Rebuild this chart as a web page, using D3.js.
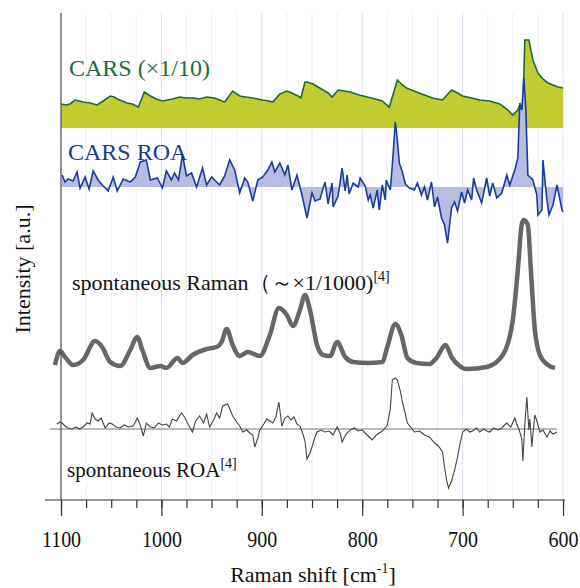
<!DOCTYPE html>
<html>
<head>
<meta charset="utf-8">
<script src="https://cdn.jsdelivr.net/npm/d3@7"></script>
<style>
  body { margin: 0; background: #fff; }
</style>
</head>
<body>
<div id="chart"></div>
<script>
// data: [Raman shift cm-1, intensity relative to its own baseline]
const majorTicks = [1100, 1000, 900, 800, 700, 600]
const minorTicks = d3.range(600, 1101, 25)

// trace baselines (a.u.)
const carsBase = 372
const carsRoaBase = 313
const ramanBase = 130
const roaBase = 71

const carsData = [
  [1100, 24], [1095, 23], [1091, 24], [1086, 28], [1082, 27], [1078, 26], [1071, 25],
  [1064, 23], [1058, 27], [1051, 32], [1047, 31], [1044, 29], [1039, 27], [1034, 25],
  [1029, 24], [1023, 21], [1017, 36], [1011, 32], [1005, 29], [999, 27], [994, 28],
  [989, 29], [982, 31], [975, 30], [968, 30], [962, 29], [955, 31], [947, 30], [942, 28],
  [937, 26], [929, 37], [922, 32], [916, 31], [909, 30], [904, 29], [899, 28], [893, 27],
  [889, 26], [882, 34], [875, 37], [870, 35], [864, 32], [861, 30], [857, 46], [855, 46],
  [849, 44], [844, 41], [839, 38], [834, 35], [830, 31], [824, 38], [818, 37], [812, 36],
  [803, 33], [795, 31], [787, 29], [780, 27], [773, 21], [765, 48], [760, 43], [756, 40],
  [751, 38], [746, 36], [738, 33], [730, 30], [725, 29], [720, 28], [711, 38], [705, 35],
  [700, 32], [691, 30], [683, 28], [673, 27], [663, 24], [656, 19], [650, 13], [645, 18],
  [643, 23], [640, 20], [638, 88], [634, 88], [630, 68], [625, 55], [620, 49], [615, 45],
  [610, 43], [605, 41], [600, 40]
]

const carsRoaData = [
  [1099, 12], [1096, 5], [1093, 8], [1088, 6], [1084, 15], [1081, -1], [1076, 10],
  [1072, -2], [1068, 16], [1063, 7], [1058, 1], [1053, -4], [1048, 10], [1044, -4],
  [1038, 8], [1031, 5], [1026, 10], [1021, 25], [1015, 27], [1011, 7], [1004, 9],
  [999, -1], [995, 16], [990, 7], [987, 14], [983, 7], [979, 32], [975, 11], [970, 14],
  [965, 0], [959, 19], [955, 2], [950, 10], [942, 2], [937, 11], [932, 27], [927, 17],
  [922, -6], [917, 9], [914, 5], [909, -14], [904, 7], [899, 10], [894, 17], [890, 25],
  [887, 15], [882, 24], [877, 12], [874, 22], [870, -3], [865, 12], [860, -8], [855, -31],
  [850, -6], [847, -14], [842, -12], [837, 5], [834, -17], [830, 4], [829, -20], [824, -9],
  [820, 19], [817, -4], [815, 12], [813, -7], [809, 4], [804, 0], [802, 9], [797, 1],
  [794, -13], [792, -8], [789, -21], [785, -3], [783, -23], [780, 2], [777, -13], [776, 7],
  [772, -3], [770, 22], [767, 65], [765, 47], [763, 24], [760, 15], [757, 3], [753, -1],
  [748, -3], [745, 4], [741, -8], [738, 0], [735, -13], [731, 5], [728, -20], [725, -10],
  [721, -31], [718, -38], [715, -56], [711, -21], [708, -15], [705, -24], [701, -5],
  [698, -16], [695, -3], [691, -13], [689, 9], [686, -3], [681, -16], [676, 9], [673, -9],
  [670, 4], [666, -11], [661, -6], [656, 12], [653, 2], [648, 17], [645, 29], [643, 84],
  [641, 77], [639, 109], [637, 77], [635, 12], [630, 7], [626, -8], [625, -28], [621, -23],
  [620, 27], [616, -13], [614, -28], [610, -18], [606, 2], [601, -23], [600, -25]
]

const ramanData = [
  [1106, 5], [1101, 19], [1096, 13], [1088, 5], [1078, 10], [1066, 29], [1059, 23],
  [1051, 8], [1041, 4], [1031, 20], [1024, 33], [1019, 20], [1011, 2], [1001, 4],
  [995, 2], [984, 12], [979, 7], [969, 15], [955, 21], [945, 23], [940, 28], [935, 41],
  [929, 25], [922, 14], [914, 18], [902, 14], [892, 35], [883, 62], [875, 55], [869, 44],
  [862, 60], [857, 75], [852, 60], [845, 25], [839, 15], [832, 14], [825, 28], [817, 13],
  [809, 8], [795, 7], [780, 8], [775, 23], [767, 46], [761, 35], [755, 12], [746, 7],
  [733, 6], [726, 12], [717, 25], [711, 13], [703, 4], [696, 1], [676, 3], [660, 15],
  [650, 50], [645, 100], [641, 146], [639, 150], [635, 145], [632, 100], [628, 40],
  [623, 15], [615, 5], [608, 2]
]

const roaData = [
  [1104, 5], [1101, 7], [1099, 6], [1096, 3], [1093, 1], [1089, 0], [1085, 2], [1082, 0],
  [1078, 2], [1074, 6], [1071, 5], [1069, 16], [1066, 10], [1063, 8], [1060, 11], [1056, 1],
  [1052, 6], [1049, 5], [1045, 2], [1041, 1], [1037, 4], [1033, 2], [1028, 3], [1024, 11],
  [1021, 4], [1018, -7], [1015, 6], [1011, 2], [1007, 1], [1003, 6], [999, 4], [995, 5],
  [992, 2], [989, 10], [985, 8], [980, 16], [977, 12], [974, 6], [969, -3], [966, 8],
  [962, 13], [958, 6], [955, 15], [952, 2], [948, 9], [945, 16], [942, 11], [939, 23],
  [934, 25], [931, 18], [929, 13], [925, 7], [922, 3], [919, -3], [915, -1], [912, -4],
  [909, -6], [907, -18], [904, -9], [902, -1], [898, 5], [895, 10], [892, 8], [889, 6],
  [886, 12], [883, 27], [880, 3], [877, 11], [874, 13], [871, 9], [868, 12], [865, 5],
  [862, 3], [860, -2], [857, -12], [855, -30], [852, -24], [850, -18], [847, -8],
  [845, -3], [841, -1], [837, -3], [833, -2], [829, -6], [825, 2], [822, -4], [820, -13],
  [816, -5], [812, -1], [808, 1], [804, -2], [800, -1], [796, -5], [793, -8], [790, -11],
  [786, -6], [783, -4], [780, -2], [777, 1], [775, 4], [772, 20], [770, 49], [767, 51],
  [765, 49], [762, 38], [760, 27], [757, 15], [755, 6], [751, 1], [748, -3], [743, -2],
  [738, -6], [733, -8], [728, -14], [724, -17], [720, -23], [718, -38], [716, -51],
  [714, -59], [711, -52], [708, -41], [705, -28], [703, -17], [700, -3], [696, 0],
  [693, -3], [690, -2], [686, 1], [683, -3], [679, 0], [676, -2], [673, -3], [669, 1],
  [665, -1], [661, 1], [658, 4], [656, 6], [652, 2], [648, 11], [646, 5], [643, -3],
  [641, -10], [640, -32], [638, 5], [636, 32], [634, -1], [633, 10], [631, -18], [630, -6],
  [628, 14], [626, 8], [623, -3], [620, -1], [616, -8], [613, -2], [610, -5], [606, -3]
]

const serif = 'Liberation Serif'

const svg = d3.select('#chart').append('svg').attr('width', 580).attr('height', 588)

const x = d3.scaleLinear().domain([1100, 600]).range([61, 563])
const y = d3.scaleLinear().domain([0, 487]).range([500, 13])

// grid lines
svg.append('g')
  .selectAll('line')
  .data(minorTicks)
  .join('line')
  .attr('x1', d => x(d)).attr('x2', d => x(d))
  .attr('y1', y(487)).attr('y2', y(0))
  .attr('stroke', d => (d % 100 === 0 ? '#dedff0' : '#efeff7'))
  .attr('stroke-width', 1)

// CARS (x1/10)
svg.append('path')
  .datum(carsData)
  .attr('fill', '#c2cc30')
  .attr('d', d3.area().x(d => x(d[0])).y0(y(carsBase)).y1(d => y(carsBase + d[1])))
svg.append('path')
  .datum(carsData)
  .attr('fill', 'none')
  .attr('stroke', '#1f6a3a')
  .attr('stroke-width', 1.6)
  .attr('d', d3.line().x(d => x(d[0])).y(d => y(carsBase + d[1])))

// CARS ROA
svg.append('path')
  .datum(carsRoaData)
  .attr('fill', '#b6bde0')
  .attr('d', d3.area().x(d => x(d[0])).y0(y(carsRoaBase)).y1(d => y(carsRoaBase + d[1])))
svg.append('path')
  .datum(carsRoaData)
  .attr('fill', 'none')
  .attr('stroke', '#1b3c9c')
  .attr('stroke-width', 1.6)
  .attr('d', d3.line().x(d => x(d[0])).y(d => y(carsRoaBase + d[1])))

// spontaneous Raman
svg.append('path')
  .datum(ramanData)
  .attr('fill', 'none')
  .attr('stroke', '#666')
  .attr('stroke-width', 4.5)
  .attr('stroke-linejoin', 'round')
  .attr('d', d3.line().curve(d3.curveMonotoneX).x(d => x(d[0])).y(d => y(ramanBase + d[1])))

// spontaneous ROA
svg.append('line')
  .attr('x1', x(1111)).attr('x2', x(606))
  .attr('y1', y(roaBase)).attr('y2', y(roaBase))
  .attr('stroke', '#777').attr('stroke-width', 1.2)
svg.append('path')
  .datum(roaData)
  .attr('fill', 'none')
  .attr('stroke', '#444')
  .attr('stroke-width', 1.1)
  .attr('d', d3.line().x(d => x(d[0])).y(d => y(roaBase + d[1])))

// axes
svg.append('line')
  .attr('x1', x(1100)).attr('x2', x(1100))
  .attr('y1', y(487)).attr('y2', y(0))
  .attr('stroke', '#555').attr('stroke-width', 1.2)
svg.append('line')
  .attr('x1', 45).attr('x2', x(598))
  .attr('y1', y(0)).attr('y2', y(0))
  .attr('stroke', '#333').attr('stroke-width', 1.2)

const minorAxis = svg.append('g')
  .attr('transform', `translate(0,${y(0)})`)
  .call(d3.axisBottom(x).tickValues(minorTicks).tickSize(8).tickFormat(''))
const majorAxis = svg.append('g')
  .attr('transform', `translate(0,${y(0)})`)
  .call(d3.axisBottom(x).tickValues(majorTicks).tickSize(16).tickFormat(d3.format('d')))
minorAxis.select('.domain').remove()
majorAxis.select('.domain').remove()
svg.selectAll('.tick line').attr('stroke', '#333').attr('stroke-width', 1.2)
// tick labels look slightly stretched vertically in the original
majorAxis.attr('font-family', serif).attr('font-size', 20)
majorAxis.selectAll('text')
  .attr('y', 47 / 1.18).attr('dy', 0)
  .attr('transform', 'scale(1,1.18)')
  .attr('fill', '#111')

// axis titles
const xTitle = svg.append('text')
  .attr('x', 313).attr('y', 582)
  .attr('text-anchor', 'middle')
  .attr('fill', '#111')
  .attr('font-family', serif)
  .attr('font-size', 22)
xTitle.append('tspan').text('Raman shift [cm')
xTitle.append('tspan').attr('dy', -9).attr('font-size', 14).text('-1')
xTitle.append('tspan').attr('dy', 9).text(']')

svg.append('text')
  .attr('transform', 'translate(30,269) rotate(-90)')
  .attr('text-anchor', 'middle')
  .attr('fill', '#111')
  .attr('font-family', serif)
  .attr('font-size', 22)
  .text('Intensity [a.u.]')

// trace labels
svg.append('text')
  .attr('x', 69).attr('y', 76)
  .attr('fill', '#1d6b3b')
  .attr('font-family', serif)
  .attr('font-size', 24)
  .text('CARS (×1/10)')

svg.append('text')
  .attr('x', 68).attr('y', 160)
  .attr('fill', '#1b3a96')
  .attr('font-family', serif)
  .attr('font-size', 24)
  .text('CARS ROA')

const ramanLabel = svg.append('text')
  .attr('x', 72).attr('y', 290)
  .attr('fill', '#111')
  .attr('font-family', serif)
  .attr('font-size', 22)
ramanLabel.append('tspan').text('spontaneous Raman（～×1/1000)')
ramanLabel.append('tspan').attr('dy', -9).attr('font-size', 14).text('[4]')

const roaLabel = svg.append('text')
  .attr('x', 67).attr('y', 477)
  .attr('fill', '#111')
  .attr('font-family', serif)
  .attr('font-size', 21)
roaLabel.append('tspan').text('spontaneous ROA')
roaLabel.append('tspan').attr('dy', -9).attr('font-size', 14).text('[4]')
</script>
</body>
</html>
